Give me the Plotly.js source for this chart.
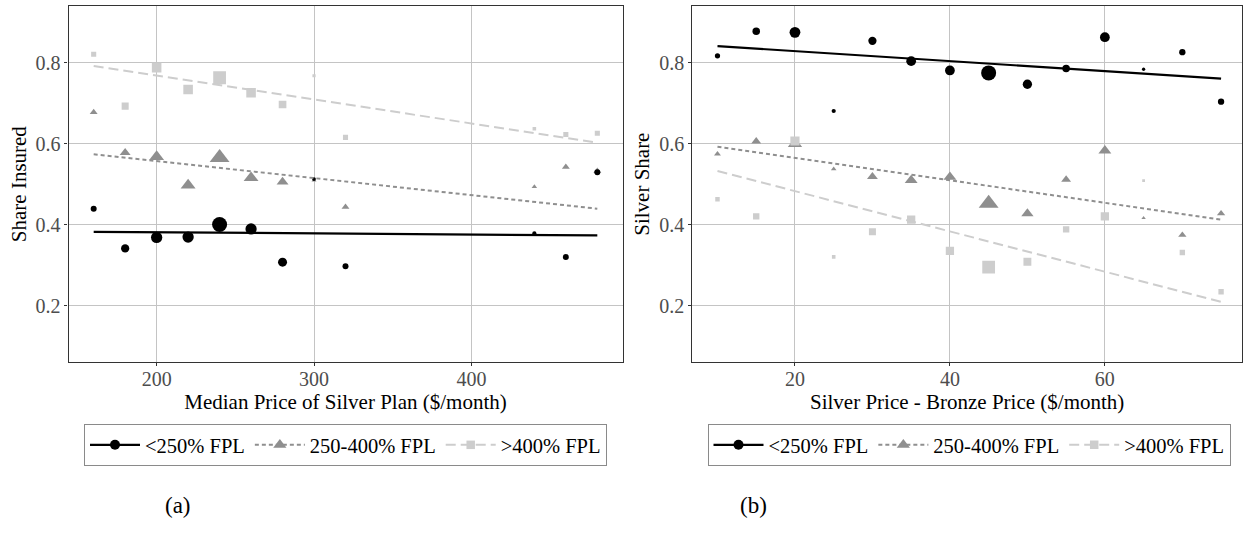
<!DOCTYPE html>
<html>
<head>
<meta charset="utf-8">
<script src="https://cdn.plot.ly/plotly-3.0.1.min.js"></script>
<style>
  html, body { margin: 0; padding: 0; background: #fff; }
  #chart { width: 1243px; height: 541px; }
</style>
</head>
<body>
<div id="chart"></div>
<script>
// ---------- Panel (a): Median Price of Silver Plan ----------
const xA = [160, 180, 200, 220, 240, 260, 280, 300, 320, 440, 460, 480];
const aLow  = [0.440, 0.342, 0.369, 0.370, 0.401, 0.390, 0.308, 0.513, 0.298, 0.379, 0.321, 0.530];
const aMid  = [0.678, 0.578, 0.568, 0.498, 0.566, 0.516, 0.506, 0.510, 0.444, 0.494, 0.543, 0.533];
const aHigh = [0.821, 0.693, 0.788, 0.734, 0.763, 0.726, 0.697, 0.768, 0.616, 0.637, 0.623, 0.626];
const aWeight = [0.40, 0.55, 0.75, 0.75, 1.00, 0.75, 0.60, 0.25, 0.40, 0.28, 0.40, 0.40];
const aTrendX = [160, 480];
const aTrendLow  = [0.383, 0.374];
const aTrendMid  = [0.574, 0.440];
const aTrendHigh = [0.792, 0.603];

// ---------- Panel (b): Silver Price - Bronze Price ----------
const xB = [10, 15, 20, 25, 30, 35, 40, 45, 50, 55, 60, 65, 70, 75];
const bLow  = [0.817, 0.878, 0.875, 0.681, 0.854, 0.804, 0.781, 0.775, 0.747, 0.786, 0.863, 0.784, 0.826, 0.704];
const bMid  = [0.575, 0.606, 0.600, 0.538, 0.519, 0.510, 0.518, 0.453, 0.428, 0.512, 0.583, 0.417, 0.375, 0.428];
const bHigh = [0.463, 0.421, 0.607, 0.321, 0.383, 0.413, 0.336, 0.296, 0.309, 0.389, 0.421, 0.509, 0.332, 0.235];
const bWeight = [0.35, 0.50, 0.72, 0.28, 0.55, 0.65, 0.65, 1.00, 0.62, 0.50, 0.65, 0.22, 0.42, 0.42];
const bTrendX = [10, 75];
const bTrendLow  = [0.841, 0.761];
const bTrendMid  = [0.593, 0.413];
const bTrendHigh = [0.533, 0.210];

const groupNames = ['<250% FPL', '250-400% FPL', '>400% FPL'];
const yTicks = [0.2, 0.4, 0.6, 0.8];

// ---------- styles ----------
const W = 1243, H = 541;
const SERIF = 'Liberation Serif';
const styles = [
  {color: '#000000', symbol: 'circle',      scale: 1.0,  dash: 'solid',     width: 2.2},
  {color: '#8f8f8f', symbol: 'triangle-up', scale: 1.15, dash: '4px,3px',   width: 2.0},
  {color: '#cdcdcd', symbol: 'square',      scale: 0.85, dash: '10px,5px',  width: 2.0}
];
const MAXSIZE = 15;

function pointTrace(x, y, w, st, xa, ya) {
  return {
    type: 'scatter', mode: 'markers', x: x, y: y, xaxis: xa, yaxis: ya,
    showlegend: false, hoverinfo: 'x+y',
    marker: {symbol: st.symbol, color: st.color, opacity: 1,
             size: w.map(v => v * MAXSIZE * st.scale), line: {width: 0}}
  };
}
function lineTrace(x, y, st, xa, ya) {
  return {
    type: 'scatter', mode: 'lines', x: x, y: y, xaxis: xa, yaxis: ya,
    showlegend: false, hoverinfo: 'skip',
    line: {color: st.color, dash: st.dash, width: st.width}
  };
}
function legendTrace(name, st, xa, ya, leg) {
  return {
    type: 'scatter', mode: 'lines+markers', x: [null], y: [null], xaxis: xa, yaxis: ya,
    name: name, legend: leg, showlegend: true,
    line: {color: st.color, dash: st.dash, width: st.width},
    marker: {symbol: st.symbol, color: st.color, opacity: 1, size: 10 * st.scale}
  };
}

const seriesA = [aLow, aMid, aHigh];
const trendA = [aTrendLow, aTrendMid, aTrendHigh];
const seriesB = [bLow, bMid, bHigh];
const trendB = [bTrendLow, bTrendMid, bTrendHigh];
const drawOrder = [1, 2, 0];

const traces = [];
drawOrder.forEach(i => traces.push(pointTrace(xA, seriesA[i], aWeight, styles[i], 'x', 'y')));
drawOrder.forEach(i => traces.push(pointTrace(xB, seriesB[i], bWeight, styles[i], 'x2', 'y2')));
[2, 1, 0].forEach(i => traces.push(lineTrace(aTrendX, trendA[i], styles[i], 'x', 'y')));
[2, 1, 0].forEach(i => traces.push(lineTrace(bTrendX, trendB[i], styles[i], 'x2', 'y2')));
groupNames.forEach((n, i) => traces.push(legendTrace(n, styles[i], 'x', 'y', 'legend')));
groupNames.forEach((n, i) => traces.push(legendTrace(n, styles[i], 'x2', 'y2', 'legend2')));

const yDomain = [1 - 362.3 / H, 1 - 6 / H];
function xAxis(domain, range, title, anchor) {
  return {
    domain: domain, range: range, anchor: anchor, autorange: false,
    showgrid: true, gridcolor: '#c4c4c4', gridwidth: 1.2, zeroline: false,
    showline: true, linecolor: '#333333', linewidth: 1.2, mirror: true,
    ticks: 'outside', ticklen: 3, tickcolor: '#333333', tickwidth: 1,
    ticklabelstandoff: -4,
    tickfont: {family: SERIF, size: 20, color: '#4d4d4d'},
    title: {text: title, font: {family: SERIF, size: 21, color: '#000'}, standoff: 0},
    automargin: false
  };
}
function yAxis(anchor) {
  return {
    domain: yDomain, range: [0.061, 0.94], anchor: anchor, autorange: false,
    tickvals: yTicks, ticktext: yTicks.map(v => v.toFixed(1)),
    showgrid: true, gridcolor: '#c4c4c4', gridwidth: 1.2, zeroline: false,
    showline: true, linecolor: '#333333', linewidth: 1.2, mirror: true,
    ticks: 'outside', ticklen: 3, tickcolor: '#333333', tickwidth: 1,
    tickfont: {family: SERIF, size: 20, color: '#4d4d4d'},
    automargin: false
  };
}

const xa1 = xAxis([68.5 / W, 622.5 / W], [144, 496], 'Median Price of Silver Plan ($/month)', 'y');
xa1.tickvals = [200, 300, 400];
const xa2 = xAxis([692.3 / W, 1242 / W], [6.75, 77.7], 'Silver Price - Bronze Price ($/month)', 'y2');
xa2.tickvals = [20, 40, 60];
const ya1 = yAxis('x');
ya1.title = {text: 'Share Insured', font: {family: SERIF, size: 21, color: '#000'}, standoff: 3};
const ya2 = yAxis('x2');
ya2.title = {text: 'Silver Share', font: {family: SERIF, size: 21, color: '#000'}, standoff: 3};

function legendBox(xc) {
  return {
    x: xc / W, xanchor: 'center', y: 1 - 424 / H, yanchor: 'top',
    orientation: 'h', bgcolor: '#ffffff', bordercolor: '#8a8a8a', borderwidth: 1,
    font: {family: SERIF, size: 20.5, color: '#000'}, itemwidth: 50, tracegroupgap: 0
  };
}

const layout = {
  width: W, height: H,
  margin: {l: 0, r: 0, t: 0, b: 0},
  paper_bgcolor: '#ffffff', plot_bgcolor: '#ffffff',
  font: {family: SERIF},
  xaxis: xa1, yaxis: ya1, xaxis2: xa2, yaxis2: ya2,
  legend: legendBox(345.5),
  legend2: legendBox(969),
  annotations: [
    {text: '(a)', x: 163 / W, y: 1 - 520 / H, xref: 'paper', yref: 'paper', showarrow: false,
     font: {family: SERIF, size: 23, color: '#000'}},
    {text: '(b)', x: 753 / W, y: 1 - 520 / H, xref: 'paper', yref: 'paper', showarrow: false,
     font: {family: SERIF, size: 23, color: '#000'}}
  ]
};

Plotly.newPlot('chart', traces, layout, {displayModeBar: false});
</script>
</body>
</html>
